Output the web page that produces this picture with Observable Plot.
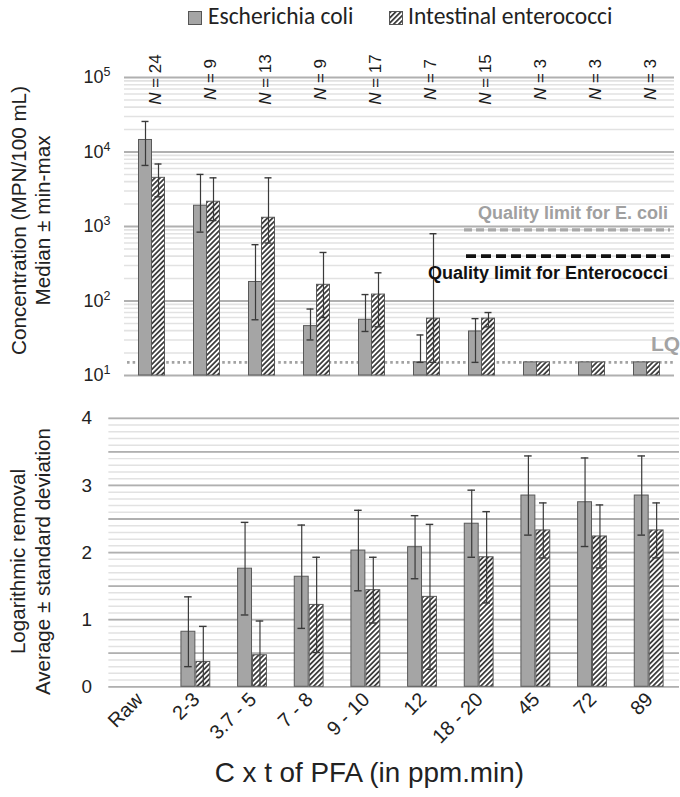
<!DOCTYPE html>
<html>
<head>
<meta charset="utf-8">
<script src="https://cdn.jsdelivr.net/npm/d3@7"></script>
<script src="https://cdn.jsdelivr.net/npm/@observablehq/plot@0.6"></script>
<style>
  html, body { margin: 0; padding: 0; background: #fff; overflow: hidden; width: 680px; height: 797px; }
  body { font-family: "Liberation Sans", Arial, sans-serif; color: #222; }
  #legend { position: relative; height: 35px; font-family: Carlito, Lato, "Liberation Sans Narrow", sans-serif; font-size: 23.5px; color: #222; }
  #legend .sw { position: absolute; top: 11px; width: 14px; height: 14px; }
  #legend .lab { position: absolute; top: 3px; line-height: 26px; white-space: nowrap; }
  svg { display: block; }
</style>
</head>
<body>
<svg width="0" height="0" style="position:absolute">
  <defs>
    <pattern id="hatch" patternUnits="userSpaceOnUse" width="3.6" height="3.6" patternTransform="rotate(45)">
      <rect width="3.6" height="3.6" fill="#ffffff"/>
      <line x1="1.8" y1="0" x2="1.8" y2="3.6" stroke="#333333" stroke-width="1.7"/>
    </pattern>
  </defs>
</svg>
<div id="legend">
  <svg class="sw" style="left:188px" width="14" height="14"><rect x="0.5" y="0.5" width="13" height="13" fill="#a5a5a5" stroke="#555"/></svg>
  <span class="lab" style="left:208px">Escherichia coli</span>
  <svg class="sw" style="left:389px" width="14" height="14"><rect x="0.5" y="0.5" width="13" height="13" fill="url(#hatch)" stroke="#555"/></svg>
  <span class="lab" style="left:408px">Intestinal enterococci</span>
</div>
<div id="top"></div>
<div id="bottom"></div>
<script>
// ---------- DATA ----------
const categories = ["Raw", "2-3", "3.7 - 5", "7 - 8", "9 - 10", "12", "18 - 20", "45", "72", "89"];
const sampleCounts = [24, 9, 13, 9, 17, 7, 15, 3, 3, 3];

// Top panel: concentration (MPN/100 mL), median with min-max
const ecoliMedian = [14500, 1900, 180, 46, 56, 15, 39, 15, 15, 15];
const ecoliMin    = [6600, 840, 56, 30, 39, 15, 15, null, null, null];
const ecoliMax    = [25700, 5000, 570, 78, 122, 35, 58, null, null, null];
const enteroMedian = [4500, 2150, 1310, 165, 122, 58, 58, 15, 15, 15];
const enteroMin    = [2500, 1200, 600, 60, 45, 15, 45, null, null, null];
const enteroMax    = [6900, 4500, 4500, 448, 239, 800, 70, null, null, null];

// Reference levels
const limitLabels = ["Quality limit for E. coli", "Quality limit for Enterococci"];
const limitValues = [900, 400];
const lqLabel = "LQ";
const lqValue = 15;

// Bottom panel: logarithmic removal, average ± standard deviation
const ecoliRemoval    = [null, 0.82, 1.76, 1.64, 2.03, 2.08, 2.43, 2.85, 2.75, 2.85];
const ecoliRemovalSd  = [null, 0.52, 0.69, 0.77, 0.60, 0.47, 0.50, 0.59, 0.66, 0.59];
const enteroRemoval   = [null, 0.37, 0.47, 1.22, 1.44, 1.34, 1.93, 2.33, 2.24, 2.33];
const enteroRemovalSd = [null, 0.53, 0.51, 0.71, 0.49, 1.08, 0.68, 0.41, 0.47, 0.41];

// Axis ticks and titles
const topTicks = [10, 100, 1000, 10000, 100000];
const bottomTicks = [0, 1, 2, 3, 4];
const topTitle = "Concentration (MPN/100 mL)\nMedian ± min-max";
const bottomTitle = "Logarithmic removal\nAverage ± standard deviation";
const xTitle = "C x t of PFA (in ppm.min)";

// ---------- BUILD ----------
const font = '"Liberation Sans", Arial, sans-serif';
const topDomain = [topTicks[0], topTicks[topTicks.length - 1]];

const ecoliTop = categories.map((c, i) => ({cat: c, med: ecoliMedian[i], lo: ecoliMin[i], hi: ecoliMax[i]}));
const enteroTop = categories.map((c, i) => ({cat: c, med: enteroMedian[i], lo: enteroMin[i], hi: enteroMax[i]}));
const nRows = categories.map((c, i) => ({cat: c, n: sampleCounts[i]}));

const topMinor = [];
for (let k = 0; k < topTicks.length - 1; ++k) for (let m = 2; m <= 9; ++m) topMinor.push(topTicks[k] * m);

const errStroke = "#3a3a3a";
const barStroke = "#595959";

const topPlot = Plot.plot({
  width: 680, height: 360,
  marginLeft: 124, marginRight: 6, marginTop: 42, marginBottom: 20,
  style: {fontFamily: font, fontSize: "18px", color: "#222", background: "transparent"},
  x: {type: "band", domain: categories, padding: 0, axis: null},
  y: {type: "log", domain: topDomain, ticks: topTicks, tickFormat: d => "10^" + Math.round(Math.log10(d)),
      tickSize: 0, tickPadding: 14, label: null},
  marks: [
    Plot.ruleY(topMinor, {stroke: "#e2e2e2", strokeWidth: 1.6}),
    Plot.ruleY(topTicks, {stroke: "#b0b0b0", strokeWidth: 1.8}),
    Plot.ruleY([lqValue], {stroke: "#a3a3a3", strokeWidth: 2.6, strokeDasharray: "2.6,3", insetLeft: 3}),
    Plot.ruleY([limitValues[0]], {x1: () => "18 - 20", x2: () => "89", y: d => d, stroke: "#a8a8a8", strokeWidth: 3.2, strokeDasharray: "8,4", insetLeft: 10, insetRight: 4}),
    Plot.ruleY([limitValues[1]], {x1: () => "18 - 20", x2: () => "89", y: d => d, stroke: "#111", strokeWidth: 3.6, strokeDasharray: "10,5", insetLeft: 12, insetRight: 4}),
    Plot.barY(ecoliTop, {x: "cat", y1: topDomain[0], y2: "med", fill: "#a5a5a5", stroke: barStroke, strokeWidth: 1, insetLeft: 14.5, insetRight: 27.5}),
    Plot.barY(enteroTop, {x: "cat", y1: topDomain[0], y2: "med", fill: "url(#hatch)", stroke: barStroke, strokeWidth: 1, insetLeft: 27.5, insetRight: 14.5}),
    Plot.ruleX(ecoliTop.filter(d => d.hi != null), {x: "cat", y1: "lo", y2: "hi", dx: -6.5, stroke: errStroke, strokeWidth: 1.2}),
    Plot.tickY(ecoliTop.filter(d => d.hi != null), {x: "cat", y: "hi", insetLeft: 17.5, insetRight: 30.5, stroke: errStroke, strokeWidth: 1.4}),
    Plot.tickY(ecoliTop.filter(d => d.hi != null), {x: "cat", y: "lo", insetLeft: 17.5, insetRight: 30.5, stroke: errStroke, strokeWidth: 1.4}),
    Plot.ruleX(enteroTop.filter(d => d.hi != null), {x: "cat", y1: "lo", y2: "hi", dx: 6.5, stroke: errStroke, strokeWidth: 1.2}),
    Plot.tickY(enteroTop.filter(d => d.hi != null), {x: "cat", y: "hi", insetLeft: 30.5, insetRight: 17.5, stroke: errStroke, strokeWidth: 1.4}),
    Plot.tickY(enteroTop.filter(d => d.hi != null), {x: "cat", y: "lo", insetLeft: 30.5, insetRight: 17.5, stroke: errStroke, strokeWidth: 1.4}),
    Plot.text(nRows, {x: "cat", y: () => topDomain[1], text: d => "N = " + d.n, rotate: -90, textAnchor: "middle", dx: 4, dy: 2, fontSize: 17, fill: "#1a1a1a"}),
    Plot.text([limitLabels[0]], {x: () => "89", y: () => limitValues[0], text: d => d, textAnchor: "end", dx: 21, dy: -17, fontSize: 18, fontWeight: "bold", fill: "#a0a0a0"}),
    Plot.text([limitLabels[1]], {x: () => "89", y: () => limitValues[1], text: d => d, textAnchor: "end", dx: 21, dy: 17, fontSize: 18, fontWeight: "bold", fill: "#111"}),
    Plot.text([lqLabel], {x: () => "89", y: () => lqValue, text: d => d, textAnchor: "start", dx: 4, dy: -18, fontSize: 21, fontWeight: "bold", fill: "#a3a3a3"}),
    Plot.text([topTitle], {frameAnchor: "left", rotate: -90, textAnchor: "middle", dx: -94.5, dy: -6, fontSize: 20.7, lineHeight: 1.2, fill: "#222"})
  ]
});

// Bottom panel
const ecoliBot = categories.map((c, i) => ({cat: c, m: ecoliRemoval[i], sd: ecoliRemovalSd[i]})).filter(d => d.m != null);
const enteroBot = categories.map((c, i) => ({cat: c, m: enteroRemoval[i], sd: enteroRemovalSd[i]})).filter(d => d.m != null);
const botMinor = d3.range(0, 40.5, 1).map(v => v / 10);
const botMajor = d3.range(0, 8.5, 1).map(v => v / 2);
const bottomDomain = [bottomTicks[0], bottomTicks[bottomTicks.length - 1]];

const bottomPlot = Plot.plot({
  width: 684, height: 402,
  marginLeft: 109, marginRight: 1, marginTop: 23, marginBottom: 109,
  style: {fontFamily: font, fontSize: "19px", color: "#222", background: "transparent", overflow: "visible"},
  x: {type: "band", domain: categories, padding: 0, axis: null},
  y: {domain: bottomDomain, ticks: bottomTicks, tickFormat: d => String(d), tickSize: 0, tickPadding: 17, label: null},
  marks: [
    Plot.ruleY(botMinor, {stroke: "#e2e2e2", strokeWidth: 1.5}),
    Plot.ruleY(botMajor, {stroke: "#b0b0b0", strokeWidth: 1.8}),
    Plot.barY(ecoliBot, {x: "cat", y: "m", fill: "#a5a5a5", stroke: barStroke, strokeWidth: 1, insetLeft: 14, insetRight: 29}),
    Plot.barY(enteroBot, {x: "cat", y: "m", fill: "url(#hatch)", stroke: barStroke, strokeWidth: 1, insetLeft: 29, insetRight: 14}),
    Plot.ruleX(ecoliBot, {x: "cat", y1: d => Math.max(0, d.m - d.sd), y2: d => d.m + d.sd, dx: -7.5, stroke: errStroke, strokeWidth: 1.2}),
    Plot.tickY(ecoliBot, {x: "cat", y: d => d.m + d.sd, insetLeft: 17.2, insetRight: 32.2, stroke: errStroke, strokeWidth: 1.4}),
    Plot.tickY(ecoliBot.filter(d => d.m - d.sd > 0), {x: "cat", y: d => d.m - d.sd, insetLeft: 17.2, insetRight: 32.2, stroke: errStroke, strokeWidth: 1.4}),
    Plot.ruleX(enteroBot, {x: "cat", y1: d => Math.max(0, d.m - d.sd), y2: d => d.m + d.sd, dx: 7.5, stroke: errStroke, strokeWidth: 1.2}),
    Plot.tickY(enteroBot, {x: "cat", y: d => d.m + d.sd, insetLeft: 32.2, insetRight: 17.2, stroke: errStroke, strokeWidth: 1.4}),
    Plot.tickY(enteroBot.filter(d => d.m - d.sd > 0), {x: "cat", y: d => d.m - d.sd, insetLeft: 32.2, insetRight: 17.2, stroke: errStroke, strokeWidth: 1.4}),
    Plot.text(categories, {x: d => d, frameAnchor: "bottom", text: d => d, rotate: -45, textAnchor: "end", dx: 5, dy: 14, fontSize: 20, fill: "#222"}),
    Plot.text([xTitle], {frameAnchor: "bottom", text: d => d, textAnchor: "middle", dx: -25, dy: 96, fontSize: 28, fill: "#222"}),
    Plot.text([bottomTitle], {frameAnchor: "left", rotate: -90, textAnchor: "middle", dx: -79.5, dy: 9, fontSize: 20.7, lineHeight: 1.2, fill: "#222"})
  ]
});

const SVGNS = "http://www.w3.org/2000/svg";
topPlot.querySelectorAll("text").forEach(t => {
  const s = t.textContent;
  if (t.children.length !== 0) return;
  // Italic "N" in sample-size labels
  if (s.startsWith("N = ")) {
    t.textContent = "";
    const ts = document.createElementNS(SVGNS, "tspan");
    ts.setAttribute("font-style", "italic");
    ts.textContent = "N";
    t.appendChild(ts);
    t.appendChild(document.createTextNode(s.slice(1)));
  }
  // Superscript exponents on the log axis
  const m = /^10\^(\d)$/.exec(s);
  if (m) {
    t.textContent = "10";
    const ts = document.createElementNS(SVGNS, "tspan");
    ts.setAttribute("font-size", "12.5px");
    ts.setAttribute("dy", "-7");
    ts.textContent = m[1];
    t.appendChild(ts);
  }
});

document.getElementById("top").appendChild(topPlot);
document.getElementById("bottom").appendChild(bottomPlot);
</script>
</body>
</html>
